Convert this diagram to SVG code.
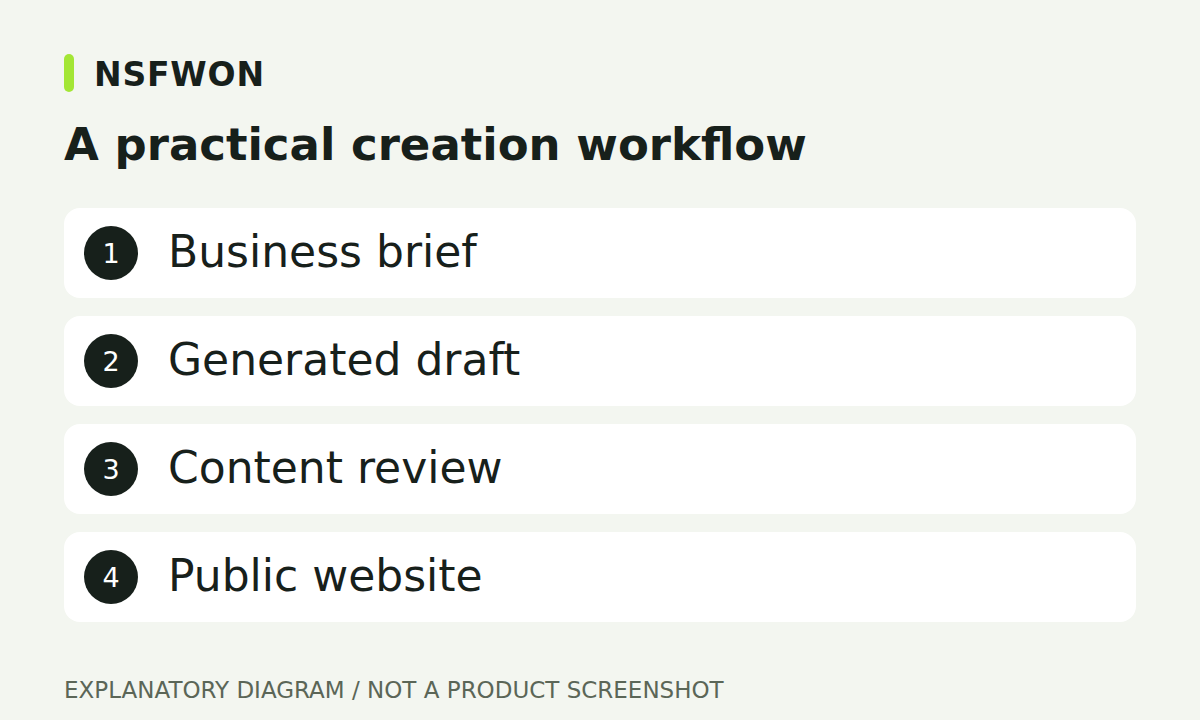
<svg xmlns="http://www.w3.org/2000/svg" width="1200" height="720" viewBox="0 0 1200 720">
<style>
text{font-family:"DejaVu Sans","Liberation Sans",sans-serif;fill:#17201b}
.card{fill:#ffffff}
.badge{fill:#17201b}
.num{fill:#ffffff;font-size:27px;text-anchor:middle}
.label{font-size:44px}
</style>
<rect width="1200" height="720" fill="#f3f6f0"/>
<g id="header">
<rect x="64" y="54" width="10" height="38" rx="5" fill="#a3e635"/>
<text x="94" y="86" font-size="33" font-weight="bold" letter-spacing="0.8">NSFWON</text>
<text x="64" y="160" font-size="45" font-weight="bold">A practical creation workflow</text>
</g>
<g id="step1"><rect class="card" x="64" y="208" width="1072" height="90" rx="16"/><circle class="badge" cx="111" cy="253" r="27"/><text class="num" x="111" y="263">1</text><text class="label" x="168" y="267">Business brief</text></g>
<g id="step2"><rect class="card" x="64" y="316" width="1072" height="90" rx="16"/><circle class="badge" cx="111" cy="361" r="27"/><text class="num" x="111" y="371">2</text><text class="label" x="168" y="375">Generated draft</text></g>
<g id="step3"><rect class="card" x="64" y="424" width="1072" height="90" rx="16"/><circle class="badge" cx="111" cy="469" r="27"/><text class="num" x="111" y="479">3</text><text class="label" x="168" y="483">Content review</text></g>
<g id="step4"><rect class="card" x="64" y="532" width="1072" height="90" rx="16"/><circle class="badge" cx="111" cy="577" r="27"/><text class="num" x="111" y="587">4</text><text class="label" x="168" y="591">Public website</text></g>
<g id="connectors"/>
<text x="64" y="698" font-size="23" style="fill:#5b6657">EXPLANATORY DIAGRAM / NOT A PRODUCT SCREENSHOT</text>
</svg>
